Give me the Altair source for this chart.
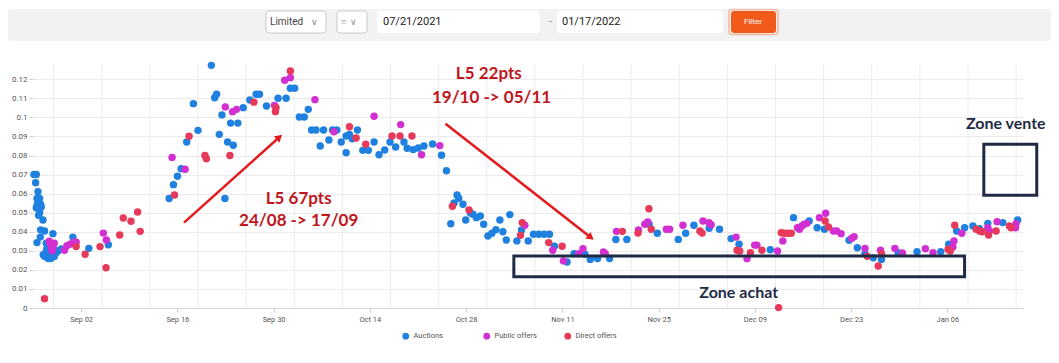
import altair as alt
import pandas as pd

# ---------------- data (days since 2021-08-26, price) ----------------
BASE = pd.Timestamp("2021-08-26")

auction_days = [0.14, 0.38, 0.48, 0.48, 0.58, 0.58, 0.62, 0.72, 0.81, 0.81, 0.96, 0.96, 1.06, 1.10, 1.10, 1.20,
                1.45, 1.49, 1.68, 1.71, 1.86, 1.93, 2.00, 2.14, 2.22, 2.29, 2.43, 2.58, 2.72, 2.87, 2.90, 3.09,
                3.38, 3.67, 4.10, 5.80, 8.12, 10.96, 19.80, 20.43, 21.01, 21.54, 22.36, 23.33, 24.00, 25.94,
                26.42, 26.71, 27.10, 27.48, 27.91, 28.30, 28.74, 29.13, 29.80, 30.58, 31.54, 32.46, 32.94, 33.96,
                35.65, 36.81, 37.43, 38.06, 38.74, 39.46, 40.04, 40.52, 41.16, 41.78, 42.26, 43.04, 43.57, 44.20,
                44.83, 45.55, 45.55, 46.03, 46.42, 47.19, 47.97, 48.78, 49.61, 50.33, 51.16, 51.93, 52.75, 53.96,
                54.43, 55.30, 56.03, 56.86, 58.12, 59.42, 60.14, 60.77, 61.25, 61.68, 61.93, 62.55, 62.94, 63.62,
                64.00, 64.49, 65.07, 65.55, 66.17, 66.75, 67.33, 67.91, 68.35, 68.84, 69.36, 70.38, 71.06, 72.03,
                72.80, 73.57, 74.35, 75.12, 75.84, 77.68, 78.70, 80.29, 81.06, 82.12, 83.86, 84.78, 86.38, 89.61,
                90.81, 93.86, 94.93, 96.13, 98.35, 99.86, 101.54, 102.70, 107.25, 110.62, 112.90, 114.06, 115.12,
                118.70, 119.90, 121.01, 122.22, 123.42, 125.84, 128.59, 132.03, 133.19, 134.35, 135.51, 136.71,
                137.68, 138.88, 141.07, 143.22]
auction_vals = [0.070, 0.0657, 0.070, 0.0526, 0.0575, 0.0343, 0.0544, 0.061, 0.0518, 0.0486, 0.0575, 0.050, 0.0372,
                0.0544, 0.041, 0.053, 0.0462, 0.028, 0.0404, 0.027, 0.029, 0.034, 0.031, 0.033, 0.026, 0.027, 0.029,
                0.026, 0.028, 0.030, 0.039, 0.027, 0.029, 0.030, 0.031, 0.0372, 0.0313, 0.0332, 0.0574, 0.0647,
                0.0691, 0.0731, 0.0871, 0.1072, 0.0932, 0.1273, 0.1103, 0.1121, 0.0911, 0.1013, 0.0574, 0.0871,
                0.0970, 0.0854, 0.0970, 0.1051, 0.1091, 0.1121, 0.1121, 0.1060, 0.1100, 0.1100, 0.1153, 0.1153,
                0.1002, 0.1002, 0.1042, 0.0934, 0.0934, 0.0850, 0.0934, 0.0881, 0.0934, 0.0934, 0.0871, 0.0902,
                0.0815, 0.0910, 0.0888, 0.0934, 0.0827, 0.0827, 0.0871, 0.0804, 0.0829, 0.0871, 0.0845, 0.0871,
                0.0838, 0.0831, 0.0839, 0.0850, 0.0860, 0.0801, 0.0720, 0.0442, 0.0551, 0.0593, 0.0576, 0.0544,
                0.0462, 0.0498, 0.0492, 0.0474, 0.0483, 0.0439, 0.0378, 0.0392, 0.0411, 0.0462, 0.0400, 0.0357,
                0.0490, 0.0352, 0.0409, 0.0352, 0.0387, 0.0387, 0.0387, 0.0387, 0.0324, 0.0241, 0.0285, 0.0282,
                0.0255, 0.0260, 0.0260, 0.0360, 0.0360, 0.0439, 0.0392, 0.0360, 0.0392, 0.0434, 0.0418, 0.0413,
                0.0364, 0.0334, 0.0306, 0.0474, 0.0456, 0.0421, 0.0413, 0.0355, 0.0316, 0.0285, 0.0264, 0.0255,
                0.0290, 0.0295, 0.0295, 0.0334, 0.0404, 0.0421, 0.0430, 0.0416, 0.0444, 0.0448, 0.0462]

public_days = [2.36, 2.58, 2.72, 2.80, 2.94, 3.09, 4.58, 4.93, 5.40, 5.88, 6.28, 10.23, 10.67, 20.23, 22.12, 27.97,
               29.03, 29.61, 35.11, 36.61, 37.43, 41.01, 43.77, 49.61, 53.48, 56.52, 59.17, 71.54, 75.60, 77.15,
               79.36, 80.00, 82.98, 83.23, 84.87, 88.06, 88.99, 89.42, 92.12, 92.61, 94.54, 97.45, 98.32, 98.64,
               102.26, 103.86, 104.97, 105.30, 108.30, 109.07, 111.20, 111.49, 111.83, 112.17, 112.55, 114.39,
               115.30, 116.42, 116.90, 117.54, 119.09, 119.43, 121.01, 123.28, 125.36, 126.46, 129.80, 130.91,
               133.81, 133.96, 135.10, 138.88, 139.13, 140.23, 142.90, 142.99]
public_vals = [0.035, 0.033, 0.031, 0.030, 0.032, 0.034, 0.0303, 0.0327, 0.0335, 0.0345, 0.0345, 0.0393, 0.0357,
               0.079, 0.0728, 0.1055, 0.103, 0.1042, 0.1063, 0.1195, 0.1208, 0.1093, 0.0925, 0.1006, 0.0962,
               0.0804, 0.0852, 0.0434, 0.0303, 0.0247, 0.0285, 0.0311, 0.0294, 0.0285, 0.0402, 0.0409, 0.0439,
               0.0451, 0.0413, 0.0413, 0.0434, 0.0456, 0.0448, 0.0437, 0.0372, 0.0259, 0.033, 0.033, 0.0299,
               0.0352, 0.0421, 0.0413, 0.043, 0.0439, 0.0444, 0.0474, 0.0497, 0.0404, 0.0404, 0.039, 0.0366,
               0.0374, 0.0313, 0.0303, 0.0313, 0.0289, 0.0311, 0.029, 0.032, 0.0352, 0.0392, 0.0421, 0.0404,
               0.0453, 0.0421, 0.0442]

direct_days = [1.68, 6.28, 7.58, 9.75, 10.62, 12.61, 13.13, 14.25, 15.22, 15.59, 20.58, 22.70, 25.01, 25.22, 28.64,
               32.12, 35.35, 35.26, 37.43, 46.03, 47.00, 48.40, 52.22, 53.38, 55.12, 61.01, 63.42, 70.91, 71.16,
               75.01, 76.96, 85.72, 88.00, 89.59, 89.93, 97.00, 97.33, 102.41, 102.80, 104.35, 106.03, 108.45,
               108.84, 109.28, 109.80, 110.29, 115.22, 115.70, 121.35, 122.94, 123.42, 133.10, 133.42, 134.07,
               137.19, 137.68, 138.06, 138.99, 140.09, 142.03, 142.26]
direct_vals = [0.0049, 0.0322, 0.0282, 0.0322, 0.0211, 0.0383, 0.0472, 0.0455, 0.0504, 0.0402, 0.0593, 0.0901,
               0.080, 0.0783, 0.080, 0.108, 0.1051, 0.103, 0.1243, 0.0951, 0.0892, 0.0859, 0.0902, 0.0902, 0.0902,
               0.0534, 0.0514, 0.0381, 0.0448, 0.0343, 0.0324, 0.0402, 0.0393, 0.0521, 0.0413, 0.0404, 0.0393,
               0.0303, 0.0299, 0.029, 0.0303, 0.0002, 0.0395, 0.0392, 0.0392, 0.0392, 0.0456, 0.0425, 0.0271,
               0.022, 0.0285, 0.0308, 0.0299, 0.0434, 0.0413, 0.0404, 0.040, 0.0383, 0.0404, 0.043, 0.0421]

series_names = ["Auctions", "Public offers", "Direct offers"]
series_colors = ["#1f80e0", "#d22fd2", "#e6395b"]

tick_dates = ["2021-09-02", "2021-09-16", "2021-09-30", "2021-10-14", "2021-10-28", "2021-11-11",
              "2021-11-25", "2021-12-09", "2021-12-23", "2022-01-06"]
week_lines = ["2021-08-29", "2021-09-05", "2021-09-12", "2021-09-19", "2021-09-26", "2021-10-03",
              "2021-10-10", "2021-10-17", "2021-10-24", "2021-10-31", "2021-11-07", "2021-11-14",
              "2021-11-21", "2021-11-28", "2021-12-05", "2021-12-12", "2021-12-19", "2021-12-26",
              "2022-01-02", "2022-01-09", "2022-01-16"]
y_ticks = [0, 0.01, 0.02, 0.03, 0.04, 0.05, 0.06, 0.07, 0.08, 0.09, 0.10, 0.11, 0.12]

# annotations (in data coordinates: days since 2021-08-26, price)
arrow_t0 = [21.97, 60.0]
arrow_v0 = [0.0448, 0.0967]
arrow_t1 = [35.7, 81.0]
arrow_v1 = [0.0892, 0.0374]
arrow_angle = [48.3, 128.2]

red_labels = ["L5 67pts", "24/08 -> 17/09", "L5 22pts", "19/10 -> 05/11"]
red_label_t = [38.65, 38.65, 66.3, 66.7]
red_label_v = [0.0572, 0.0456, 0.1228, 0.1100]

zone_labels = ["Zone vente", "Zone achat"]
zone_label_t = [141.5, 102.65]
zone_label_v = [0.0965, 0.0079]
zone_t0 = [138.3, 69.94]
zone_t1 = [146.0, 135.5]
zone_v0 = [0.0591, 0.0164]
zone_v1 = [0.0859, 0.0273]

# toolbar (screen mock-up) texts and boxes
tb_texts = ["Limited", "\u2228", "\u2261", "\u2228", "07/21/2021", "-", "01/17/2022", "Filter"]
tb_text_x = [270, 311, 341, 350, 383, 549, 562, 744]
tb_text_size = [10, 9, 10, 9, 11, 10, 11, 8]
tb_text_color = ["#444444", "#888888", "#aaaaaa", "#888888", "#222222", "#888888", "#222222", "#ffffff"]
tb_box_x0 = [8, 266, 337, 377, 557, 729, 731]
tb_box_x1 = [1051, 326, 367, 540, 723, 778, 776]
tb_box_y0 = [8, 10, 10, 10, 10, 8.5, 10]
tb_box_y1 = [40, 32, 32, 32, 32, 33.5, 32]
tb_box_fill = ["#f2f2f2", "#ffffff", "#ffffff", "#ffffff", "#ffffff", "transparent", "#f25a1c"]
tb_box_stroke = ["transparent", "#c8c8c8", "#c8c8c8", "transparent", "transparent", "#f6b89f", "transparent"]
tb_box_sw = [0, 1, 1, 0, 0, 1.5, 0]


def iso(days):
    return [(BASE + pd.Timedelta(days=d)).strftime("%Y-%m-%dT%H:%M:%SZ") for d in days]


def iso_dates(ds):
    return [d + "T00:00:00Z" for d in ds]


pts = pd.concat([
    pd.DataFrame({"t": iso(auction_days), "v": auction_vals, "kind": series_names[0]}),
    pd.DataFrame({"t": iso(public_days), "v": public_vals, "kind": series_names[1]}),
    pd.DataFrame({"t": iso(direct_days), "v": direct_vals, "kind": series_names[2]}),
], ignore_index=True)

grid_df = pd.DataFrame({"t": iso_dates(week_lines)})
arrows_df = pd.DataFrame({"t": iso(arrow_t0), "v": arrow_v0, "t2": iso(arrow_t1), "v2": arrow_v1,
                          "ang": arrow_angle})
red_df = pd.DataFrame({"t": iso(red_label_t), "v": red_label_v, "label": red_labels})
zone_lbl_df = pd.DataFrame({"t": iso(zone_label_t), "v": zone_label_v, "label": zone_labels})
zone_df = pd.DataFrame({"t": iso(zone_t0), "t2": iso(zone_t1), "v": zone_v0, "v2": zone_v1})


def dt(s):
    y, m, d = (int(p) for p in s.split("-"))
    return alt.DateTime(year=y, month=m, date=d, utc=True)


XS = alt.Scale(type="utc", domain=[dt("2021-08-26"), dt("2022-01-17")], nice=False)
YS = alt.Scale(domain=[0, 0.128], nice=False, zero=False)
XAXIS = alt.Axis(values=[dt(d) for d in tick_dates], format="%b %d", title=None, grid=False,
                 labelFontSize=7.5, labelColor="#555555", labelFont="Roboto", tickSize=4,
                 tickColor="#cccccc", domainColor="#d6d6d6", labelPadding=3)
YAXIS = alt.Axis(values=y_ticks, format=".2~f", title=None, domain=False, labelFontSize=8,
                 labelColor="#555555", labelFont="Roboto", tickSize=4, tickColor="#cccccc",
                 grid=True, gridColor="#ebebeb", labelPadding=2)

RED = "#e3191c"
DARKRED = "#c0161e"
NAVY = "#1f2b45"

grid_rules = alt.Chart(grid_df).mark_rule(color="#ececec", strokeWidth=1).encode(
    x=alt.X("t:T", scale=XS, axis=None))

points = alt.Chart(pts).mark_circle(size=55, opacity=1).encode(
    x=alt.X("t:T", scale=XS, axis=XAXIS),
    y=alt.Y("v:Q", scale=YS, axis=YAXIS),
    color=alt.Color("kind:N", scale=alt.Scale(domain=series_names, range=series_colors),
                    legend=alt.Legend(title=None, orient="none", legendX=369, legendY=268,
                                      direction="horizontal", symbolType="circle", symbolSize=45,
                                      labelFontSize=7.5, labelColor="#555555", labelFont="Roboto",
                                      columnPadding=27, gridAlign="all", padding=0, labelOffset=4,
                                      symbolStrokeWidth=0)),
)

arrow_lines = alt.Chart(arrows_df).mark_rule(color=RED, strokeWidth=2.5).encode(
    x=alt.X("t:T", scale=XS, axis=None), x2="t2:T",
    y=alt.Y("v:Q", scale=YS, axis=None), y2="v2:Q")

arrow_heads = alt.Chart(arrows_df).mark_point(shape="triangle", filled=True, size=70, color=RED,
                                              opacity=1).encode(
    x=alt.X("t2:T", scale=XS, axis=None),
    y=alt.Y("v2:Q", scale=YS, axis=None),
    angle=alt.Angle("ang:Q", scale=None))

red_text = alt.Chart(red_df).mark_text(font="Lato", fontWeight="bold", fontSize=17, color=DARKRED,
                                       align="center", baseline="middle").encode(
    x=alt.X("t:T", scale=XS, axis=None), y=alt.Y("v:Q", scale=YS, axis=None), text="label:N")

zone_rects = alt.Chart(zone_df).mark_rect(fillOpacity=0, stroke=NAVY, strokeWidth=3).encode(
    x=alt.X("t:T", scale=XS, axis=None), x2="t2:T",
    y=alt.Y("v:Q", scale=YS, axis=None), y2="v2:Q")

zone_text = alt.Chart(zone_lbl_df).mark_text(font="Lato", fontWeight="bold", fontSize=16, color=NAVY,
                                             align="center", baseline="middle").encode(
    x=alt.X("t:T", scale=XS, axis=None), y=alt.Y("v:Q", scale=YS, axis=None), text="label:N")

# toolbar mock-up, drawn in page-pixel coordinates above the plot
P0 = 33
TX = alt.Scale(domain=[P0, P0 + 990], nice=False, zero=False)
TY = alt.Scale(domain=[63, 307], nice=False, zero=False, reverse=True)

tb_box_df = pd.DataFrame({"x": tb_box_x0, "x2": tb_box_x1, "y": tb_box_y0, "y2": tb_box_y1,
                          "fill": tb_box_fill, "stroke": tb_box_stroke, "sw": tb_box_sw})
tb_txt_df = pd.DataFrame({"x": tb_text_x, "y": [21] * len(tb_texts), "label": tb_texts,
                          "fs": tb_text_size, "col": tb_text_color})

tb_boxes = alt.Chart(tb_box_df).mark_rect(cornerRadius=3).encode(
    x=alt.X("x:Q", scale=TX, axis=None), x2="x2:Q",
    y=alt.Y("y:Q", scale=TY, axis=None), y2="y2:Q",
    fill=alt.Fill("fill:N", scale=None),
    stroke=alt.Stroke("stroke:N", scale=None),
    strokeWidth=alt.StrokeWidth("sw:Q", scale=None))

tb_txt = alt.Chart(tb_txt_df).mark_text(font="Roboto", align="left", baseline="middle").encode(
    x=alt.X("x:Q", scale=TX, axis=None),
    y=alt.Y("y:Q", scale=TY, axis=None),
    text="label:N",
    size=alt.Size("fs:Q", scale=None),
    color=alt.Color("col:N", scale=None))

chart = alt.layer(
    grid_rules, points, arrow_lines, arrow_heads, red_text, zone_rects, zone_text, tb_boxes, tb_txt
).resolve_scale(x="independent", y="independent").properties(
    width=990, height=244, padding=0
).configure_view(strokeWidth=0)

chart.save("out.html", embed_options={"renderer": "svg", "actions": False})
